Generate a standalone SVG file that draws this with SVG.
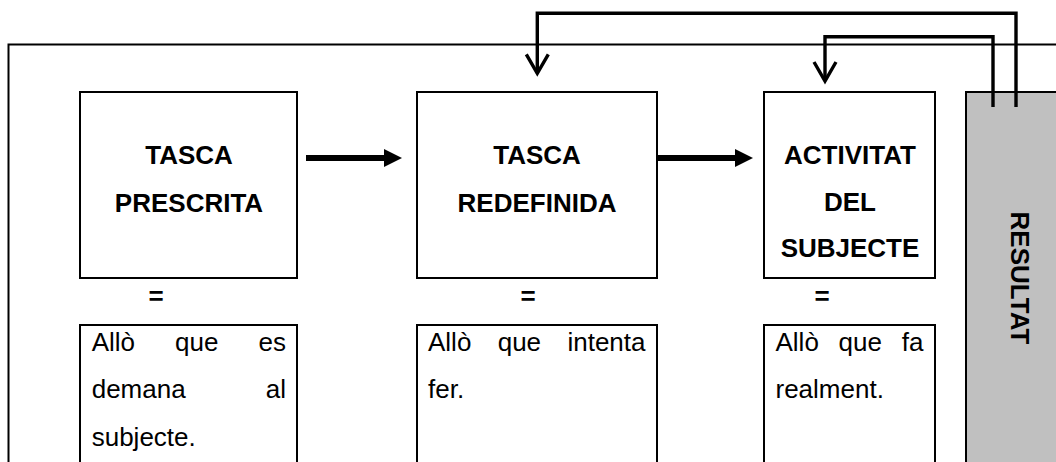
<svg xmlns="http://www.w3.org/2000/svg" width="1056" height="462" viewBox="0 0 1056 462">
<style>
.box{fill:#fff;stroke:#000;stroke-width:2}
.res{fill:#c0c0c0;stroke:#000;stroke-width:2}
.frame{fill:none;stroke:#000;stroke-width:2}
.h{font-family:"Liberation Sans",Arial,sans-serif;font-weight:bold;font-size:26px;text-anchor:middle;fill:#000}
.t{font-family:"Liberation Sans",Arial,sans-serif;font-size:26px;fill:#000}
.eq{font-family:"Liberation Sans",Arial,sans-serif;font-weight:bold;font-size:26px;text-anchor:middle;fill:#000}
.flow{fill:none;stroke:#000;stroke-width:6}
.fb{fill:none;stroke:#000;stroke-width:3.4;stroke-linejoin:miter}
</style>
<defs>
<marker id="solid" markerUnits="userSpaceOnUse" viewBox="0 0 18 18" markerWidth="18" markerHeight="18" refX="2" refY="9" orient="auto">
<path d="M0,0 L18,9 L0,18 z" fill="#000"/>
</marker>
<marker id="vee" markerUnits="userSpaceOnUse" viewBox="-24 -14 28 28" markerWidth="28" markerHeight="28" refX="0" refY="0" orient="auto" overflow="visible">
<path d="M-19,-11 L0,0 L-19,11" fill="none" stroke="#000" stroke-width="3.4" stroke-linejoin="miter"/>
</marker>
</defs>
<rect class="frame" x="8.5" y="44.5" width="1200" height="600"/>
<g id="resultat">
<rect class="res" x="966" y="92" width="200" height="500"/>
<text class="h" transform="translate(1011,278) rotate(90)" x="0" y="0">RESULTAT</text>
</g>
<g id="connectors">
<path class="flow" d="M306,158 H386" marker-end="url(#solid)"/>
<path class="flow" d="M657,158 H737" marker-end="url(#solid)"/>
<path class="fb" d="M1016,107 V13.3 H537.3 V73.3" marker-end="url(#vee)"/>
<path class="fb" d="M993,107 V36.7 H825 V81" marker-end="url(#vee)"/>
</g>
<g id="tasca-prescrita">
<rect class="box" x="80" y="92" width="217" height="186"/>
<text class="h" x="189" y="164">TASCA</text>
<text class="h" x="189" y="212">PRESCRITA</text>
</g>
<g id="tasca-redefinida">
<rect class="box" x="417" y="92" width="240" height="186"/>
<text class="h" x="537" y="164">TASCA</text>
<text class="h" x="537" y="212">REDEFINIDA</text>
</g>
<g id="activitat">
<rect class="box" x="764" y="92" width="171" height="186"/>
<text class="h" x="850" y="164">ACTIVITAT</text>
<text class="h" x="850" y="211">DEL</text>
<text class="h" x="850" y="257">SUBJECTE</text>
</g>
<g id="equals">
<text class="eq" x="156" y="305">=</text>
<text class="eq" x="528" y="305">=</text>
<text class="eq" x="822" y="305">=</text>
</g>
<g id="desc-prescrita">
<rect class="box" x="80" y="325" width="217" height="300"/>
<text class="t" x="91.7" y="350.5">Allò</text>
<text class="t" x="196.7" y="350.5" text-anchor="middle">que</text>
<text class="t" x="286" y="350.5" text-anchor="end">es</text>
<text class="t" x="91.7" y="398">demana</text>
<text class="t" x="286" y="398" text-anchor="end">al</text>
<text class="t" x="91.7" y="446">subjecte.</text>
</g>
<g id="desc-redefinida">
<rect class="box" x="417" y="325" width="240" height="300"/>
<text class="t" x="428" y="350.5">Allò</text>
<text class="t" x="519.4" y="350.5" text-anchor="middle">que</text>
<text class="t" x="645.5" y="350.5" text-anchor="end">intenta</text>
<text class="t" x="428" y="398">fer.</text>
</g>
<g id="desc-activitat">
<rect class="box" x="764" y="325" width="171" height="300"/>
<text class="t" x="775.5" y="350.5">Allò</text>
<text class="t" x="860.3" y="350.5" text-anchor="middle">que</text>
<text class="t" x="923.5" y="350.5" text-anchor="end">fa</text>
<text class="t" x="775.5" y="398">realment.</text>
</g>
</svg>
